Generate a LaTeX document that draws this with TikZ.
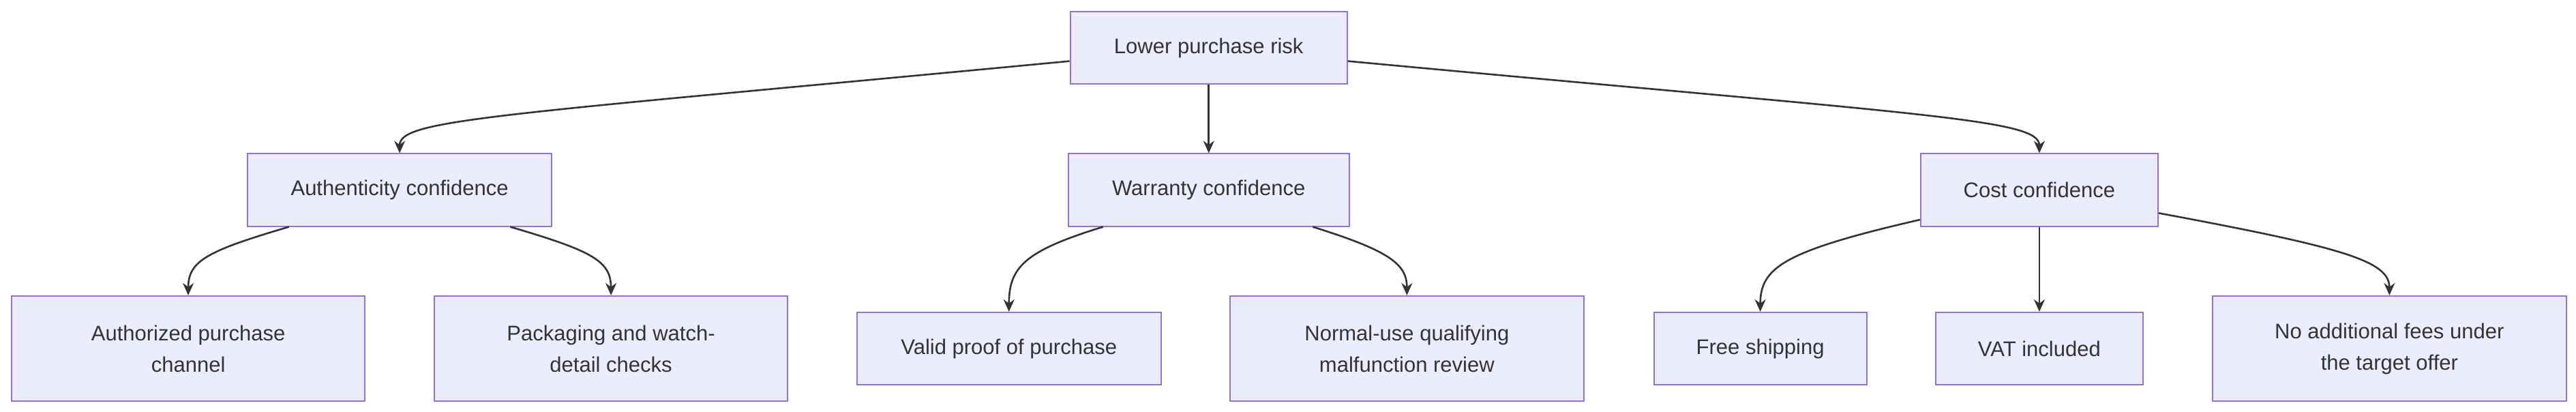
\documentclass[tikz,border=0pt]{standalone}
\usepackage{fontspec}
\setmainfont{Liberation Sans}
\usetikzlibrary{calc,arrows.meta}
\begin{document}
\begin{tikzpicture}[x=1.21pt,y=-1.21pt,
 box/.style={draw=mmborder,fill=mmfill,line width=1pt,text=mmtext,align=center,font=\fontsize{15.5}{23}\selectfont,inner sep=0pt},
 edge/.style={draw=mmtext,line width=1.3pt,-{Stealth[length=9pt,width=8pt]}}]
\definecolor{mmfill}{HTML}{ECECFF}
\definecolor{mmborder}{HTML}{9370DB}
\definecolor{mmtext}{HTML}{333333}
\useasboundingbox[fill=white] (0,0) rectangle (1560,249.4);
\node[box,minimum width=203pt,minimum height=53pt] (root) at (732,29) {Lower purchase risk};
\node[box,minimum width=223pt,minimum height=53pt] (auth) at (242,115) {Authenticity confidence};
\node[box,minimum width=206pt,minimum height=53pt] (war) at (732,115) {Warranty confidence};
\node[box,minimum width=174pt,minimum height=53pt] (cost) at (1235,115) {Cost confidence};
\node[box,minimum width=259pt,minimum height=77pt] (l1) at (114,211) {Authorized purchase\\channel};
\node[box,minimum width=259pt,minimum height=77pt] (l2) at (370,211) {Packaging and watch-\\detail checks};
\node[box,minimum width=223pt,minimum height=53pt] (l3) at (611,211) {Valid proof of purchase};
\node[box,minimum width=259pt,minimum height=77pt] (l4) at (852,211) {Normal-use qualifying\\malfunction review};
\node[box,minimum width=156pt,minimum height=53pt] (l5) at (1066,211) {Free shipping};
\node[box,minimum width=152pt,minimum height=53pt] (l6) at (1235,211) {VAT included};
\node[box,minimum width=259pt,minimum height=77pt] (l7) at (1447,211) {No additional fees under\\the target offer};
\draw[edge] ($(root.west)+(0,8)$) .. controls (300,70) and (242,72) .. (auth.north);
\draw[edge] (root.south) -- (war.north);
\draw[edge] ($(root.east)+(0,8)$) .. controls (1170,70) and (1235,72) .. (cost.north);
\draw[edge] ($(auth.south)+(-67,0)$) .. controls (125,152) and (114,158) .. (l1.north);
\draw[edge] ($(auth.south)+(67,0)$) .. controls (359,152) and (370,158) .. (l2.north);
\draw[edge] ($(war.south)+(-64,0)$) .. controls (620,152) and (611,162) .. (l3.north);
\draw[edge] ($(war.south)+(63,0)$) .. controls (842,152) and (852,160) .. (l4.north);
\draw[edge] ($(cost.west)+(0,18)$) .. controls (1080,152) and (1066,162) .. (l5.north);
\draw[edge] (cost.south) -- (l6.north);
\draw[edge] ($(cost.east)+(0,14)$) .. controls (1420,150) and (1447,158) .. (l7.north);
\end{tikzpicture}
\end{document}
